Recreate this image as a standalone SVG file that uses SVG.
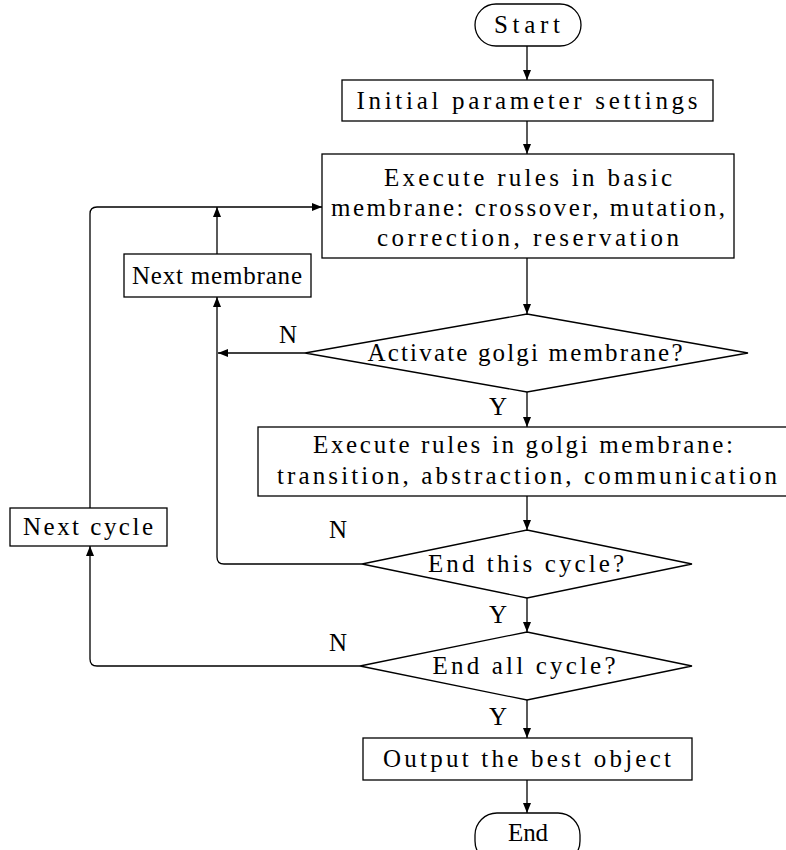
<svg xmlns="http://www.w3.org/2000/svg" width="786" height="850" viewBox="0 0 786 850">
<defs>
<style>
.shape{fill:#fff;stroke:#000;stroke-width:1.3}
.ln{fill:none;stroke:#000;stroke-width:1.3}
text{font-family:"Liberation Serif","DejaVu Serif",serif;font-size:25px;fill:#000;text-anchor:middle}
</style>
<marker id="ah" viewBox="0 0 10 8" refX="10" refY="4" markerWidth="10" markerHeight="8" markerUnits="userSpaceOnUse" orient="auto">
<path d="M0,0 L10,4 L0,8 Z" fill="#000"/>
</marker>
</defs>
<rect width="786" height="850" fill="#fff"/>
<g id="connectors">
<path class="ln" d="M527,46 V80" marker-end="url(#ah)"/>
<path class="ln" d="M527,121 V154" marker-end="url(#ah)"/>
<path class="ln" d="M527,258 V314" marker-end="url(#ah)"/>
<path class="ln" d="M527,392 V427" marker-end="url(#ah)"/>
<path class="ln" d="M527,496 V530" marker-end="url(#ah)"/>
<path class="ln" d="M527,598 V632" marker-end="url(#ah)"/>
<path class="ln" d="M527,700 V738" marker-end="url(#ah)"/>
<path class="ln" d="M527,780 V813" marker-end="url(#ah)"/>
<path class="ln" d="M305,353 H218" marker-end="url(#ah)"/>
<path class="ln" d="M362,564 H224 Q217,564 217,557 V297" marker-end="url(#ah)"/>
<path class="ln" d="M217,254 V207" marker-end="url(#ah)"/>
<path class="ln" d="M360,666 H97 Q90,666 90,659 V546" marker-end="url(#ah)"/>
<path class="ln" d="M90,508 V214 Q90,207 97,207 H322" marker-end="url(#ah)"/>
<text x="288" y="343">N</text>
<text x="338" y="538">N</text>
<text x="338" y="651">N</text>
<text x="498" y="415">Y</text>
<text x="498" y="623">Y</text>
<text x="498" y="725">Y</text>
</g>
<g id="start">
<rect class="shape" x="475" y="4" width="106" height="42" rx="21"/>
<text x="527" y="33" textLength="66" lengthAdjust="spacing">Start</text>
</g>
<g id="init">
<rect class="shape" x="342" y="80" width="371" height="41"/>
<text x="527" y="109" textLength="341" lengthAdjust="spacing">Initial parameter settings</text>
</g>
<g id="basic">
<rect class="shape" x="322" y="154" width="412" height="104"/>
<text x="528" y="186" textLength="288" lengthAdjust="spacing">Execute rules in basic</text>
<text x="528" y="216" textLength="394" lengthAdjust="spacing">membrane: crossover, mutation,</text>
<text x="528" y="246" textLength="302" lengthAdjust="spacing">correction, reservation</text>
</g>
<g id="nextmembrane">
<rect class="shape" x="124" y="254" width="187" height="43"/>
<text x="217" y="284" textLength="170" lengthAdjust="spacing">Next membrane</text>
</g>
<g id="activate">
<polygon class="shape" points="527,314 748,353 527,392 305,353"/>
<text x="525" y="361" textLength="315" lengthAdjust="spacing">Activate golgi membrane?</text>
</g>
<g id="golgi">
<rect class="shape" x="258" y="427" width="540" height="69"/>
<text x="523" y="453" textLength="420" lengthAdjust="spacing">Execute rules in golgi membrane:</text>
<text x="527" y="484" textLength="500" lengthAdjust="spacing">transition, abstraction, communication</text>
</g>
<g id="endthis">
<polygon class="shape" points="527,530 692,564 527,598 362,564"/>
<text x="526" y="572" textLength="196" lengthAdjust="spacing">End this cycle?</text>
</g>
<g id="nextcycle">
<rect class="shape" x="10" y="508" width="157" height="38"/>
<text x="88" y="535" textLength="130" lengthAdjust="spacing">Next cycle</text>
</g>
<g id="endall">
<polygon class="shape" points="527,632 692,666 527,700 360,666"/>
<text x="524" y="674" textLength="183" lengthAdjust="spacing">End all cycle?</text>
</g>
<g id="output">
<rect class="shape" x="363" y="738" width="329" height="42"/>
<text x="527" y="767" textLength="288" lengthAdjust="spacing">Output the best object</text>
</g>
<g id="end">
<rect class="shape" x="475" y="813" width="105" height="50" rx="22"/>
<text x="528" y="841" textLength="40" lengthAdjust="spacing">End</text>
</g>
</svg>
